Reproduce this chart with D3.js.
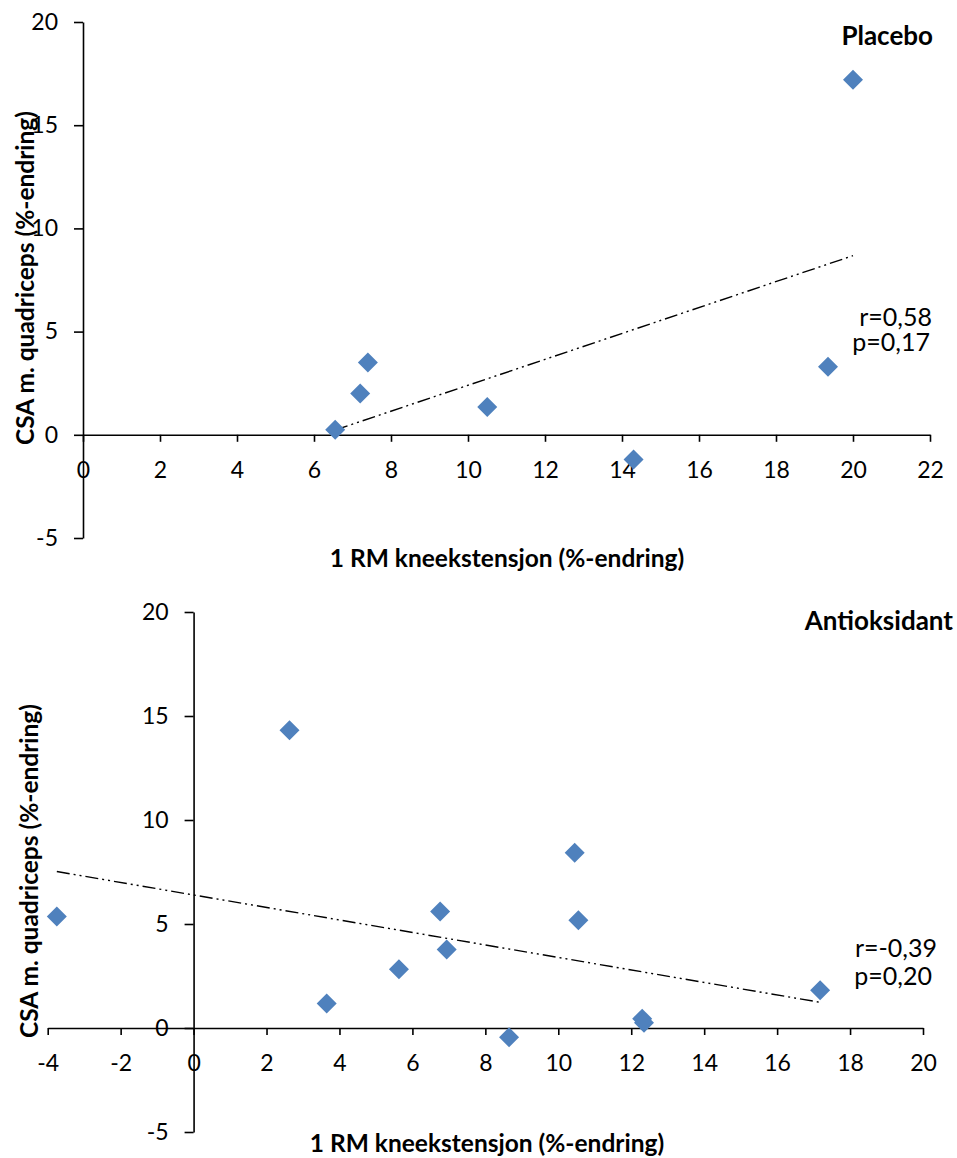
<!DOCTYPE html>
<html>
<head>
<meta charset="utf-8">
<script src="https://cdn.jsdelivr.net/npm/d3@7"></script>
<style>
  body { margin: 0; background: #fff; }
  text { font-family: Lato, "Open Sans", sans-serif; fill: #000; }
</style>
</head>
<body>
<script>
// data
var placeboX = [6.55, 7.2, 7.4, 10.5, 14.3, 19.35, 20.0];
var placeboY = [0.25, 2.0, 3.5, 1.35, -1.2, 3.3, 17.2];

var antiX = [-3.75, 2.63, 3.65, 5.63, 6.76, 6.94, 8.65, 10.45, 10.55, 12.3, 12.35, 17.18];
var antiY = [5.36, 14.31, 1.18, 2.82, 5.6, 3.77, -0.45, 8.43, 5.18, 0.45, 0.25, 1.81];

var placeboXTicks = [0, 2, 4, 6, 8, 10, 12, 14, 16, 18, 20, 22];
var antiXTicks = [-4, -2, 0, 2, 4, 6, 8, 10, 12, 14, 16, 18, 20];
var yTicks = [-5, 0, 5, 10, 15, 20];

var xTitle = "1 RM kneekstensjon (%-endring)";
var yTitle = "CSA m. quadriceps (%-endring)";

var svg = d3.select("body").append("svg")
  .attr("width", 957)
  .attr("height", 1158);

// least squares trend line, like excel
function fitLine(xs, ys) {
  var mx = d3.mean(xs), my = d3.mean(ys);
  var sxy = d3.sum(xs, function(d, i) { return (d - mx) * (ys[i] - my); });
  var sxx = d3.sum(xs, function(d) { return (d - mx) * (d - mx); });
  var b = sxy / sxx;
  return { b: b, a: my - b * mx };
}

function panel(opt) {
  var g = svg.append("g");
  var x = d3.scaleLinear().domain(opt.xDomain).range(opt.xRange);
  var y = d3.scaleLinear().domain([-5, 20]).range(opt.yRange);

  // x axis through y=0
  var xa = g.append("g")
    .attr("transform", "translate(0," + y(0) + ")")
    .call(d3.axisBottom(x).tickValues(opt.xTicks).tickSize(7).tickSizeOuter(0)
      .tickPadding(20).tickFormat(function(d) { return String(d); }));

  // y axis through x=0
  var ya = g.append("g")
    .attr("transform", "translate(" + x(0) + ",0)")
    .call(d3.axisLeft(y).tickValues(yTicks).tickSize(9).tickSizeOuter(0)
      .tickPadding(16).tickFormat(function(d) { return String(d); }));

  [xa, ya].forEach(function(a) {
    a.selectAll("path, line").attr("stroke", "#000").attr("stroke-width", 1.6);
    a.selectAll("text").style("font-size", "23px").attr("fill", "#000");
  });

  // trend line
  var fit = fitLine(opt.xs, opt.ys);
  var ext = d3.extent(opt.xs);
  g.append("line")
    .attr("x1", x(ext[0])).attr("y1", y(fit.a + fit.b * ext[0]))
    .attr("x2", x(ext[1])).attr("y2", y(fit.a + fit.b * ext[1]))
    .attr("stroke", "#000")
    .attr("stroke-width", 1.4)
    .attr("stroke-dasharray", "13,4,2,4,2,4");

  // diamonds
  g.selectAll(".pt")
    .data(opt.xs)
    .enter()
    .append("path")
    .attr("class", "pt")
    .attr("d", "M0,-10L10,0L0,10L-10,0Z")
    .attr("transform", function(d, i) { return "translate(" + x(d) + "," + y(opt.ys[i]) + ")"; })
    .attr("fill", "#4F81BD");

  // titles
  g.append("text")
    .attr("transform", "translate(" + opt.yTitlePos[0] + "," + opt.yTitlePos[1] + ") rotate(-90)")
    .attr("text-anchor", "middle")
    .attr("dy", "0.35em")
    .style("font-size", "24.5px")
    .style("font-weight", "bold")
    .text(yTitle);

  g.append("text")
    .attr("x", opt.xTitlePos[0]).attr("y", opt.xTitlePos[1])
    .attr("text-anchor", "middle")
    .attr("dy", "0.35em")
    .style("font-size", "24.5px")
    .style("font-weight", "bold")
    .text(xTitle);

  g.append("text")
    .attr("x", opt.namePos[0]).attr("y", opt.namePos[1])
    .attr("text-anchor", "end")
    .attr("dy", "0.35em")
    .style("font-size", "26px")
    .style("font-weight", "bold")
    .text(opt.name);

  g.append("text")
    .attr("x", opt.rPos[0]).attr("y", opt.rPos[1])
    .attr("text-anchor", "end")
    .attr("dy", "0.35em")
    .style("font-size", "25px")
    .text(opt.r);

  g.append("text")
    .attr("x", opt.pPos[0]).attr("y", opt.pPos[1])
    .attr("text-anchor", "end")
    .attr("dy", "0.35em")
    .style("font-size", "25px")
    .text(opt.p);
}

panel({
  xs: placeboX, ys: placeboY,
  xDomain: [0, 22], xRange: [83, 930], yRange: [538, 22],
  xTicks: placeboXTicks,
  yTitlePos: [25, 278], xTitlePos: [507, 558],
  name: "Placebo", namePos: [933, 36],
  r: "r=0,58", rPos: [932, 317],
  p: "p=0,17", pPos: [930, 342]
});

panel({
  xs: antiX, ys: antiY,
  xDomain: [-4, 20], xRange: [47.7, 923], yRange: [1132, 612],
  xTicks: antiXTicks,
  yTitlePos: [29, 871], xTitlePos: [487, 1143],
  name: "Antioksidant", namePos: [953, 621],
  r: "r=-0,39", rPos: [937, 948],
  p: "p=0,20", pPos: [932, 976]
});
</script>
</body>
</html>
